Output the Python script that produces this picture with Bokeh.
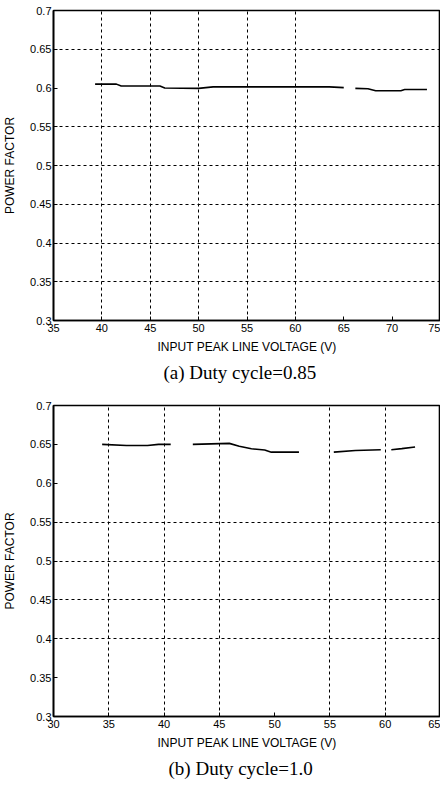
import numpy as np
from bokeh.plotting import figure
from bokeh.layouts import column
from bokeh.models import Range1d, FixedTicker, Title
from bokeh.embed import file_html
from bokeh.resources import INLINE

nan = float("nan")

# ---- (a) Duty cycle = 0.85 ----
a_voltage = [39.3, 41.5, 42.0, 46.0, 46.5, 50.0, 51.5, 60.0, 63.5, 65.0, nan,
             66.2, 67.5, 68.3, 70.9, 71.3, 73.6]
a_pf = [0.605, 0.605, 0.6025, 0.6025, 0.600, 0.5995, 0.6015, 0.6015, 0.6015, 0.6005, nan,
        0.5995, 0.599, 0.5965, 0.5965, 0.598, 0.598]
a_xticks = [35, 40, 45, 50, 55, 60, 65, 70, 75]
a_xgrid = [40, 45, 50, 55, 60]
a_ygrid = [0.35, 0.4, 0.45, 0.5, 0.55, 0.65]

# ---- (b) Duty cycle = 1.0 ----
b_voltage = [34.4, 36.6, 38.5, 39.5, 40.6, nan,
             42.6, 45.9, 46.8, 47.9, 49.1, 49.7, 52.2, nan,
             55.35, 57.3, 59.6, nan,
             60.55, 61.5, 62.7]
b_pf = [0.650, 0.6486, 0.6486, 0.6500, 0.6500, nan,
        0.6500, 0.6513, 0.6475, 0.6443, 0.6428, 0.6400, 0.6400, nan,
        0.6400, 0.6422, 0.6430, nan,
        0.6430, 0.6445, 0.6466]
b_xticks = [30, 35, 40, 45, 50, 55, 60, 65]
b_xgrid = [35, 40, 45, 55, 60]
b_ygrid = [0.4, 0.45, 0.5, 0.55]

ytick_vals = [0.3, 0.35, 0.4, 0.45, 0.5, 0.55, 0.6, 0.65, 0.7]
ytick_labels = ["0.3", "0.35", "0.4", "0.45", "0.5", "0.55", "0.6", "0.65", "0.7"]

x_label = "INPUT PEAK LINE VOLTAGE (V)"
y_label = "POWER FACTOR"
caption_a = "(a) Duty cycle=0.85"
caption_b = "(b) Duty cycle=1.0"

SANS = "Liberation Sans"
SERIF = "Liberation Serif"


def make_plot(xs, ys, xr, xticks, xgrid, ygrid, caption, cap_offset, height, top_border):
    p = figure(width=440, height=height, x_range=Range1d(*xr), y_range=Range1d(0.3, 0.7),
               output_backend="svg", toolbar_location=None,
               min_border_left=52, min_border_right=0, min_border_top=top_border,
               min_border_bottom=70)
    p.background_fill_color = "white"
    p.border_fill_color = "white"
    p.outline_line_color = "black"
    p.outline_line_width = 1.6
    p.outline_line_alpha = 1.0

    p.xaxis.ticker = FixedTicker(ticks=xticks)
    p.yaxis.ticker = FixedTicker(ticks=ytick_vals)
    p.yaxis.major_label_overrides = {v: l for v, l in zip(ytick_vals, ytick_labels)}
    p.xaxis.major_label_overrides = {v: str(v) for v in xticks}

    for ax in (p.xaxis[0], p.yaxis[0]):
        ax.axis_line_color = "black"
        ax.axis_line_width = 1.6
        ax.major_tick_in = 4
        ax.major_tick_out = 0
        ax.major_tick_line_color = "black"
        ax.minor_tick_line_color = None
        ax.major_label_text_font = SANS
        ax.major_label_text_font_size = "11px"
        ax.major_label_text_color = "black"
        ax.axis_label_text_font = SANS
        ax.axis_label_text_font_size = "12px"
        ax.axis_label_text_font_style = "normal"
        ax.axis_label_text_color = "black"
        ax.major_label_standoff = 2

    p.xaxis.major_label_standoff = 3
    p.xaxis.axis_label_standoff = 5
    p.yaxis.axis_label_standoff = 10
    p.xaxis.axis_label = x_label
    p.yaxis.axis_label = y_label

    p.xgrid.ticker = FixedTicker(ticks=xgrid)
    p.ygrid.ticker = FixedTicker(ticks=ygrid)
    for g in (p.xgrid[0], p.ygrid[0]):
        g.grid_line_color = "black"
        g.grid_line_width = 1
        g.grid_line_dash = "3 3"
        g.grid_line_alpha = 1.0

    p.line(xs, ys, line_color="black", line_width=1.6)

    t = Title(text=caption, align="left", text_font=SERIF, text_font_size="19px",
              text_font_style="normal", text_color="black", standoff=6, offset=cap_offset)
    p.add_layout(t, "below")
    return p


p1 = make_plot(a_voltage, a_pf, (35, 75), a_xticks, a_xgrid, a_ygrid, caption_a, 110, 390, 10)
p2 = make_plot(b_voltage, b_pf, (30, 65), b_xticks, b_xgrid, b_ygrid, caption_b, 115, 396, 15)

layout = column(p1, p2, spacing=0)

with open("out.html", "w") as f:
    f.write(file_html(layout, INLINE))
